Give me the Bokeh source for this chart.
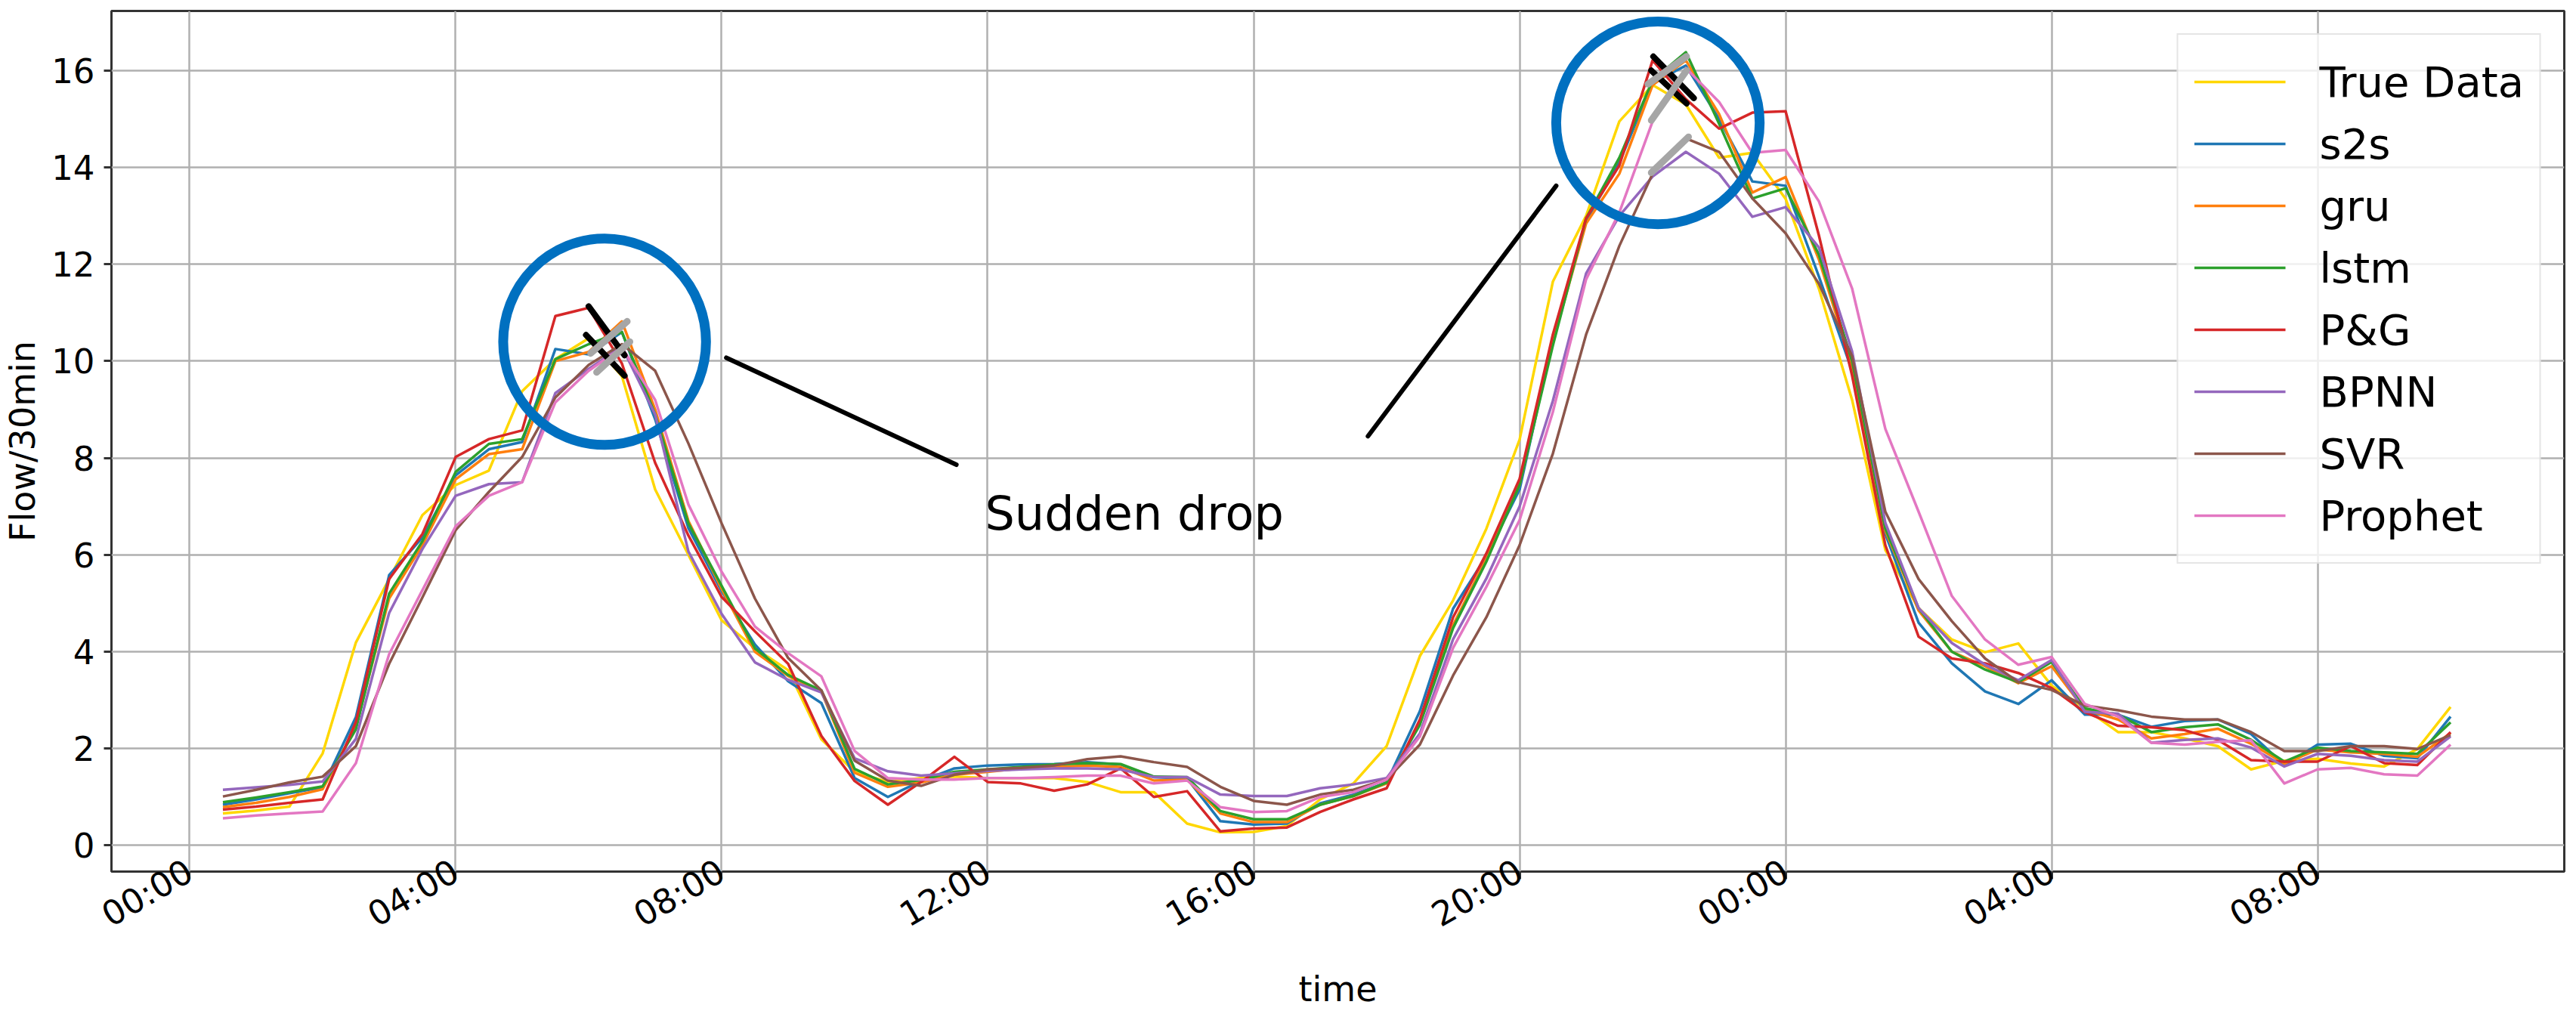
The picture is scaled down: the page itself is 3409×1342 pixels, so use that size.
import math
from bokeh.plotting import figure
from bokeh.models import Range1d, FixedTicker
from bokeh.embed import file_html
from bokeh.resources import INLINE
from bokeh.core.properties import value

# ---------------- data ----------------
time_h = [0.5 + 0.5 * i for i in range(68)]  # hours since 00:00 of day 1, 30-min steps

true_data = [0.66, 0.72, 0.80, 1.90, 4.19, 5.50, 6.82, 7.44, 7.74, 9.38,
             10.04, 10.47, 9.69, 7.35, 6.00, 4.65, 4.07, 3.62, 2.19, 1.52,
             1.31, 1.39, 1.42, 1.39, 1.39, 1.39, 1.31, 1.10, 1.10, 0.45,
             0.27, 0.28, 0.40, 0.95, 1.28, 2.05, 3.91, 5.06, 6.54, 8.38,
             11.64, 13.00, 14.95, 15.70, 15.30, 14.20, 14.30, 13.35, 11.50, 9.20,
             6.10, 4.90, 4.25, 3.99, 4.17, 3.30, 2.83, 2.34, 2.34, 2.21,
             2.05, 1.57, 1.75, 1.79, 1.69, 1.63, 1.99, 2.86]
s2s = [0.84, 0.95, 1.08, 1.20, 2.65, 5.58, 6.36, 7.64, 8.18, 8.33,
       10.25, 10.14, 10.60, 8.80, 6.55, 5.25, 4.15, 3.39, 2.94, 1.39,
       1.00, 1.33, 1.59, 1.65, 1.67, 1.68, 1.72, 1.67, 1.41, 1.38,
       0.50, 0.43, 0.45, 0.87, 1.05, 1.30, 2.77, 4.89, 5.97, 7.35,
       10.45, 12.90, 14.10, 15.75, 16.10, 15.00, 13.71, 13.62, 11.75, 9.80,
       6.43, 4.60, 3.76, 3.18, 2.92, 3.41, 2.70, 2.70, 2.45, 2.57,
       2.60, 2.30, 1.66, 2.08, 2.10, 1.85, 1.80, 2.66]
gru = [0.79, 0.88, 1.00, 1.16, 2.45, 5.10, 6.20, 7.56, 8.08, 8.18,
       10.00, 10.19, 10.82, 9.00, 6.70, 5.30, 4.00, 3.50, 3.18, 1.50,
       1.21, 1.30, 1.46, 1.52, 1.59, 1.62, 1.65, 1.62, 1.34, 1.36,
       0.66, 0.48, 0.48, 0.84, 1.02, 1.28, 2.52, 4.55, 5.92, 7.45,
       10.40, 12.84, 13.87, 15.70, 16.21, 15.10, 13.48, 13.80, 12.10, 9.90,
       6.50, 4.85, 4.00, 3.70, 3.35, 3.70, 2.80, 2.60, 2.21, 2.30,
       2.41, 2.10, 1.69, 1.98, 1.92, 1.89, 1.83, 2.32]
lstm = [0.89, 0.99, 1.10, 1.22, 2.40, 5.20, 6.28, 7.71, 8.29, 8.39,
        10.04, 10.35, 10.60, 8.90, 6.65, 5.36, 4.07, 3.52, 3.20, 1.58,
        1.26, 1.35, 1.52, 1.57, 1.62, 1.67, 1.70, 1.68, 1.42, 1.41,
        0.71, 0.54, 0.54, 0.84, 1.02, 1.30, 2.49, 4.49, 5.86, 7.45,
        10.32, 12.95, 14.20, 15.80, 16.38, 14.90, 13.36, 13.57, 12.20, 10.00,
        6.54, 4.90, 4.00, 3.63, 3.37, 3.79, 2.83, 2.70, 2.34, 2.44,
        2.50, 2.18, 1.73, 2.02, 1.95, 1.92, 1.89, 2.54]
pg = [0.74, 0.80, 0.88, 0.95, 2.55, 5.50, 6.43, 8.02, 8.39, 8.57,
      10.93, 11.10, 9.95, 7.90, 6.40, 5.13, 4.42, 3.75, 2.26, 1.33,
      0.84, 1.31, 1.83, 1.31, 1.28, 1.13, 1.26, 1.59, 1.00, 1.12,
      0.29, 0.35, 0.37, 0.69, 0.95, 1.18, 2.60, 4.71, 6.03, 7.57,
      10.55, 12.95, 14.04, 16.21, 15.41, 14.80, 15.13, 15.16, 12.60, 9.70,
      6.20, 4.31, 3.86, 3.76, 3.56, 3.25, 2.75, 2.47, 2.44, 2.38,
      2.18, 1.76, 1.73, 1.73, 2.05, 1.70, 1.66, 2.34]
bpnn = [1.15, 1.20, 1.25, 1.32, 2.20, 4.80, 6.12, 7.22, 7.46, 7.50,
        9.34, 9.84, 10.30, 8.90, 6.07, 4.78, 3.78, 3.42, 3.16, 1.80,
        1.53, 1.44, 1.49, 1.54, 1.57, 1.59, 1.59, 1.57, 1.41, 1.41,
        1.05, 1.02, 1.02, 1.18, 1.26, 1.39, 2.31, 4.26, 5.51, 7.00,
        9.18, 11.81, 13.00, 13.81, 14.32, 13.87, 12.98, 13.18, 12.35, 10.20,
        6.66, 4.90, 4.18, 3.73, 3.41, 3.83, 2.76, 2.72, 2.12, 2.18,
        2.21, 2.02, 1.63, 1.89, 1.85, 1.76, 1.73, 2.25]
svr = [1.01, 1.15, 1.30, 1.42, 2.05, 3.75, 5.12, 6.51, 7.30, 8.02,
       9.25, 9.92, 10.35, 9.80, 8.30, 6.65, 5.10, 3.87, 3.20, 1.75,
       1.34, 1.23, 1.46, 1.57, 1.60, 1.65, 1.78, 1.84, 1.72, 1.62,
       1.21, 0.92, 0.84, 1.05, 1.15, 1.36, 2.08, 3.51, 4.71, 6.20,
       8.09, 10.55, 12.38, 13.87, 14.60, 14.32, 13.36, 12.64, 11.60, 10.10,
       6.89, 5.50, 4.63, 3.86, 3.37, 3.21, 2.89, 2.79, 2.66, 2.60,
       2.60, 2.34, 1.95, 1.95, 2.05, 2.05, 1.99, 2.28]
prophet = [0.56, 0.62, 0.66, 0.70, 1.70, 3.95, 5.27, 6.59, 7.22, 7.50,
           9.15, 9.80, 10.28, 9.20, 7.04, 5.65, 4.52, 3.97, 3.49, 1.95,
           1.39, 1.36, 1.36, 1.39, 1.39, 1.41, 1.44, 1.44, 1.28, 1.34,
           0.79, 0.69, 0.71, 1.00, 1.10, 1.36, 2.25, 4.08, 5.34, 6.72,
           8.95, 11.69, 13.07, 14.95, 16.05, 15.35, 14.30, 14.36, 13.30, 11.50,
           8.60, 6.89, 5.15, 4.25, 3.73, 3.89, 2.92, 2.66, 2.12, 2.08,
           2.14, 2.17, 1.28, 1.57, 1.60, 1.47, 1.44, 2.08]

series_names = ["True Data", "s2s", "gru", "lstm", "P&G", "BPNN", "SVR", "Prophet"]
series_values = [true_data, s2s, gru, lstm, pg, bpnn, svr, prophet]
series_colors = ["#FFD700", "#1f77b4", "#ff7f0e", "#2ca02c", "#d62728",
                 "#9467bd", "#8c564b", "#e377c2"]

tick_hours = [0, 4, 8, 12, 16, 20, 24, 28, 32]
tick_labels = ["00:00", "04:00", "08:00", "12:00", "16:00", "20:00",
               "00:00", "04:00", "08:00"]
y_ticks = [0, 2, 4, 6, 8, 10, 12, 14, 16]

# annotations (data coordinates: hours, flow)
circle_x = [6.24, 22.08]
circle_y = [10.40, 14.92]
circle_w = [3.05, 3.06]
circle_h = [4.26, 4.19]
pointer_x0 = [8.07, 17.72]
pointer_y0 = [10.07, 8.45]
pointer_x1 = [11.53, 20.55]
pointer_y1 = [7.86, 13.62]
black_x0 = [6.00, 5.96, 22.01, 21.98]
black_y0 = [11.13, 10.54, 16.29, 16.00]
black_x1 = [6.54, 6.54, 22.62, 22.51]
black_y1 = [10.12, 9.70, 15.43, 15.32]
gray_x0 = [6.03, 6.12, 21.93, 21.98, 21.98]
gray_y0 = [10.16, 9.77, 15.72, 14.97, 13.89]
gray_x1 = [6.58, 6.62, 22.51, 22.51, 22.54]
gray_y1 = [10.82, 10.40, 16.29, 16.00, 14.63]
note_text = "Sudden drop"
note_x, note_y = 11.96, 6.86

# ---------------- figure ----------------
p = figure(frame_width=3246, frame_height=1139, output_backend="svg",
           toolbar_location=None,
           x_range=Range1d(-1.176, 35.71), y_range=Range1d(-0.54, 17.23),
           min_border_left=138, min_border_right=9, min_border_top=14,
           min_border_bottom=150)
p.background_fill_color = "white"
p.border_fill_color = "white"
p.outline_line_color = "#333333"
p.outline_line_width = 3

for name, vals, col in zip(series_names, series_values, series_colors):
    p.line(time_h, vals, line_color=col, line_width=3.5, line_join="round",
           legend_label=name)

p.segment(x0=black_x0, y0=black_y0, x1=black_x1, y1=black_y1,
          line_color="black", line_width=8, line_cap="round")
p.segment(x0=gray_x0, y0=gray_y0, x1=gray_x1, y1=gray_y1,
          line_color="#A6A6A6", line_width=9, line_cap="round")
p.ellipse(x=circle_x, y=circle_y, width=circle_w, height=circle_h,
          fill_color=None, line_color="#0070C0", line_width=13)
p.segment(x0=pointer_x0, y0=pointer_y0, x1=pointer_x1, y1=pointer_y1,
          line_color="black", line_width=6, line_cap="round")
p.text(x=[note_x], y=[note_y], text=[note_text], text_font=value("DejaVu Sans"),
       text_font_size="62px", text_color="black", text_baseline="alphabetic",
       text_align="left")

# axes
p.xaxis.ticker = FixedTicker(ticks=tick_hours)
p.xaxis.major_label_overrides = {h: l for h, l in zip(tick_hours, tick_labels)}
p.xaxis.major_label_orientation = math.pi / 6
p.yaxis.ticker = FixedTicker(ticks=y_ticks)
p.xaxis.axis_label = "time"
p.yaxis.axis_label = "Flow/30min"
for ax in (p.xaxis, p.yaxis):
    ax.axis_line_color = None
    ax.major_tick_line_color = "#333333"
    ax.major_tick_line_width = 3
    ax.major_tick_out = 10
    ax.major_tick_in = 0
    ax.minor_tick_line_color = None
    ax.major_label_text_font = "DejaVu Sans"
    ax.major_label_text_font_size = "45px"
    ax.major_label_text_color = "black"
    ax.axis_label_text_font = "DejaVu Sans"
    ax.axis_label_text_font_size = "46px"
    ax.axis_label_text_font_style = "normal"
    ax.axis_label_text_color = "black"
p.xaxis.major_label_standoff = -14
p.xaxis.axis_label_standoff = 19
p.yaxis.major_label_standoff = 12
p.yaxis.axis_label_standoff = 8

p.grid.grid_line_color = "#b0b0b0"
p.grid.grid_line_width = 2.5

lg = p.legend[0]
lg.location = "top_right"
lg.margin = 30
lg.padding = 21
lg.spacing = 0
lg.glyph_width = 121
lg.glyph_height = 82
lg.label_height = 82
lg.label_standoff = 45
lg.label_text_font = "DejaVu Sans"
lg.label_text_font_size = "56px"
lg.label_text_color = "black"
lg.border_line_color = "#cccccc"
lg.border_line_width = 2
lg.background_fill_color = "white"
lg.background_fill_alpha = 0.8

open("out.html", "w").write(file_html(p, INLINE))
